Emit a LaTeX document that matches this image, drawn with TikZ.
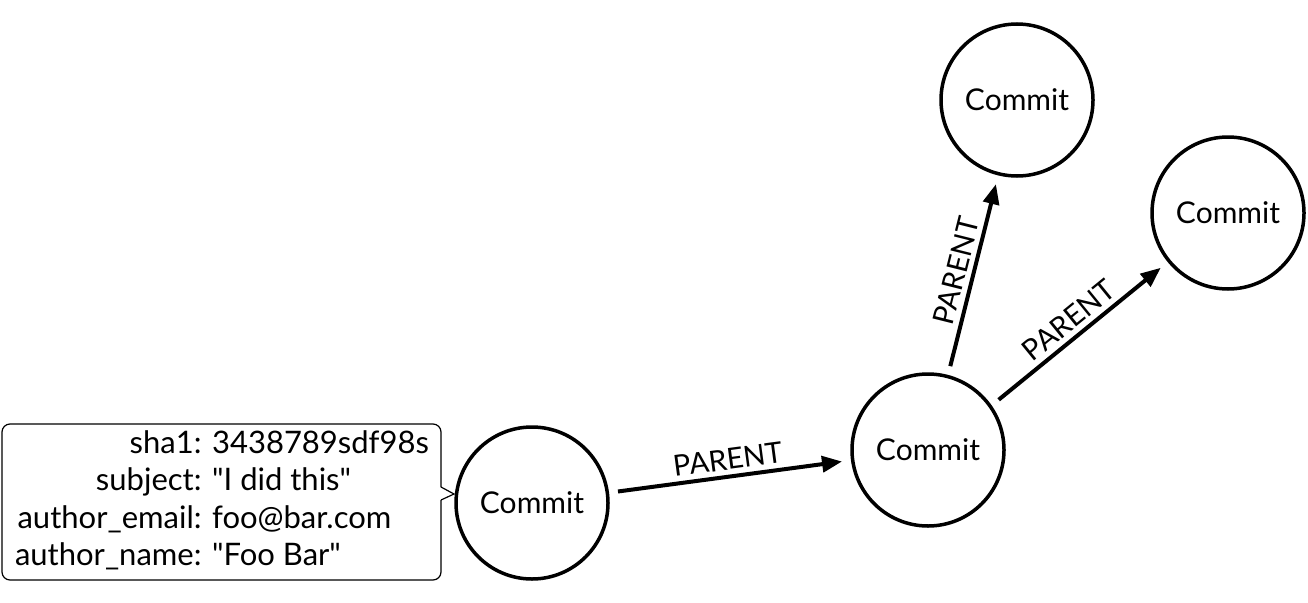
\documentclass[tikz,border=0pt]{standalone}
\usepackage{fontspec}
\setmainfont{Lato}
\usetikzlibrary{arrows.meta}
\begin{document}
\begin{tikzpicture}[x=1pt,y=-1pt,
  commit/.style={circle,draw,line width=3.5pt,minimum size=152pt,inner sep=0pt,font=\fontsize{30}{32}\selectfont},
  rel/.style={line width=4pt,-{Triangle[length=20pt,width=16pt]},shorten <=9pt,shorten >=9pt},
  lbl/.style={sloped,above,font=\fontsize{29}{30}\selectfont,inner sep=5pt}]
\useasboundingbox (0,0) rectangle (1308,602);
\node[commit] (c1) at (532,503) {Commit};
\node[commit] (c2) at (928,450) {Commit};
\node[commit] (c3) at (1017,100) {Commit};
\node[commit] (c4) at (1228,213) {Commit};
\draw[rel] (c1) -- node[lbl]{PARENT} (c2);
\draw[rel] (c2.75) -- node[lbl]{PARENT} (c3);
\draw[rel] (c2.35) -- node[lbl]{PARENT} (c4);
\coordinate (tip) at (454,494);
\draw[line width=1.2pt,rounded corners=8pt,fill=white]
  (441,500) -- (441,580) -- (2,580) -- (2,424) -- (441,424) -- (441,487);
\draw[line width=1.2pt] (441,487) -- (tip) -- (441,500);
\node[anchor=center,inner sep=0pt,font=\fontsize{31}{37.5}\selectfont] (box) at (222,502)
 {\begin{tabular}{@{}r@{ }l@{}}sha1: & 3438789sdf98s\\ subject: & \textquotedbl I did this\textquotedbl\\ author\_email: & foo@bar.com\\ author\_name: & \textquotedbl Foo Bar\textquotedbl\end{tabular}};
\end{tikzpicture}
\end{document}
